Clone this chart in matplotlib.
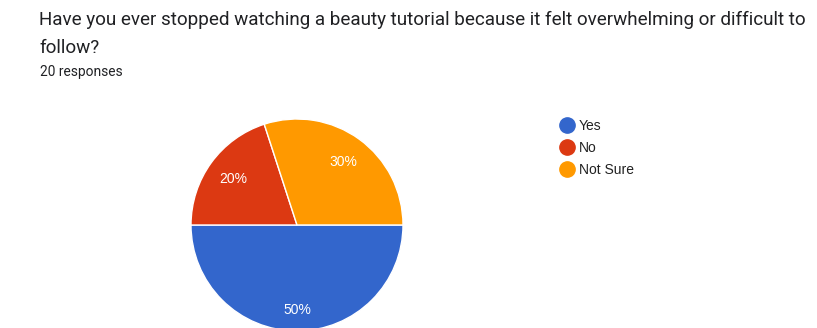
import matplotlib.pyplot as plt
from matplotlib.lines import Line2D

# Data
labels = ['Yes', 'No', 'Not Sure']
values = [50, 20, 30]
colors = ['#3366cc', '#dc3912', '#ff9900']
title_lines = ['Have you ever stopped watching a beauty tutorial because it felt overwhelming or difficult to',
               'follow?']
subtitle = '20 responses'

plt.rcParams['font.family'] = ['Roboto', 'DejaVu Sans']

W, H = 817, 328
fig = plt.figure(figsize=(W / 100, H / 100), dpi=100)

# Title and response count (baselines in px from top)
for line, base in zip(title_lines, [25, 53]):
    fig.text(39 / W, 1 - base / H, line, fontsize=13.55, color='#202124',
             va='baseline', ha='left')
fig.text(40 / W, 1 - 76 / H, subtitle, fontsize=9.9, color='#202124',
         va='baseline', ha='left')

# Pie axes: center (297, 225), radius 106 px
cx, cy, r = 297, 225, 106
ax = fig.add_axes([(cx - r) / W, (H - cy - r) / H, 2 * r / W, 2 * r / H])
wedges, texts, autotexts = ax.pie(values, colors=colors, startangle=0, counterclock=False,
                                  autopct='%d%%', pctdistance=0.74,
                                  wedgeprops=dict(edgecolor='white', linewidth=1),
                                  textprops=dict(color='white', fontsize=10,
                                                 family=['Liberation Sans', 'DejaVu Sans']))
autotexts[0].set_position((0, -0.8))
ax.set_xlim(-1, 1)
ax.set_ylim(-1, 1)
ax.set_aspect('equal')
ax.axis('off')
for w in wedges:
    w.set_clip_on(False)

# Legend
handles = [Line2D([], [], marker='o', linestyle='none', markersize=11,
                  markerfacecolor=c, markeredgecolor=c) for c in colors]
fig.legend(handles, labels, loc='upper left', bbox_to_anchor=(554 / W, 1 - 113 / H),
           frameon=False, handletextpad=0.3, labelspacing=0.6,
           borderaxespad=0, handlelength=1.1,
           prop=dict(family=['Liberation Sans', 'DejaVu Sans'], size=10),
           labelcolor='#222222')

fig.savefig('out.png', dpi=100)
